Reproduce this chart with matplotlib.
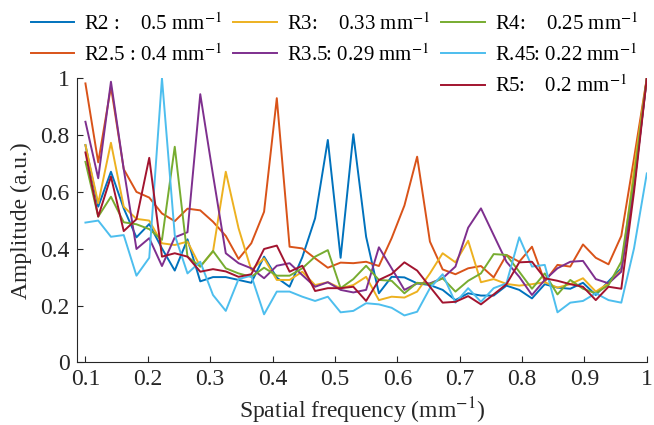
import matplotlib
matplotlib.use("Agg")
import matplotlib.pyplot as plt
from matplotlib.lines import Line2D

plt.rcParams["font.family"] = "serif"
plt.rcParams["font.serif"] = ["Liberation Serif", "DejaVu Serif"]
plt.rcParams["mathtext.fontset"] = "stix"

# ------------------------------------------------------------------ data
freq = [0.1000, 0.1205, 0.1409, 0.1614, 0.1818, 0.2023, 0.2227, 0.2432,
        0.2636, 0.2841, 0.3045, 0.3250, 0.3455, 0.3659, 0.3864, 0.4068,
        0.4273, 0.4477, 0.4682, 0.4886, 0.5091, 0.5295, 0.5500, 0.5705,
        0.5909, 0.6114, 0.6318, 0.6523, 0.6727, 0.6932, 0.7136, 0.7341,
        0.7545, 0.7750, 0.7955, 0.8159, 0.8364, 0.8568, 0.8773, 0.8977,
        0.9182, 0.9386, 0.9591, 0.9795, 1.0000]

r2 = [0.765, 0.548, 0.671, 0.542, 0.440, 0.487, 0.401, 0.323, 0.433, 0.285,
      0.300, 0.300, 0.290, 0.280, 0.372, 0.298, 0.266, 0.370, 0.507, 0.783,
      0.368, 0.803, 0.442, 0.243, 0.301, 0.299, 0.278, 0.272, 0.255, 0.219,
      0.243, 0.235, 0.235, 0.270, 0.255, 0.225, 0.275, 0.263, 0.259, 0.280,
      0.237, 0.285, 0.331, 0.620, 1.000]
r25 = [0.982, 0.704, 0.970, 0.680, 0.600, 0.580, 0.524, 0.497, 0.541, 0.535,
       0.495, 0.445, 0.364, 0.419, 0.530, 0.930, 0.407, 0.401, 0.366, 0.333,
       0.351, 0.349, 0.354, 0.339, 0.437, 0.552, 0.724, 0.425, 0.327, 0.310,
       0.331, 0.339, 0.299, 0.378, 0.354, 0.407, 0.284, 0.343, 0.337, 0.415,
       0.368, 0.345, 0.445, 0.718, 1.000]
r3 = [0.765, 0.560, 0.773, 0.548, 0.505, 0.499, 0.419, 0.413, 0.425, 0.337,
      0.390, 0.671, 0.472, 0.325, 0.366, 0.290, 0.290, 0.319, 0.272, 0.282,
      0.261, 0.272, 0.301, 0.219, 0.231, 0.228, 0.249, 0.313, 0.384, 0.352,
      0.428, 0.282, 0.293, 0.276, 0.270, 0.275, 0.282, 0.263, 0.275, 0.296,
      0.249, 0.278, 0.325, 0.680, 1.000]
r35 = [0.847, 0.648, 0.988, 0.680, 0.399, 0.437, 0.339, 0.440, 0.458, 0.944,
       0.660, 0.384, 0.349, 0.331, 0.296, 0.340, 0.349, 0.307, 0.266, 0.282,
       0.255, 0.246, 0.255, 0.405, 0.331, 0.255, 0.278, 0.278, 0.296, 0.337,
       0.474, 0.542, 0.448, 0.354, 0.301, 0.237, 0.290, 0.331, 0.354, 0.357,
       0.293, 0.278, 0.319, 0.620, 1.000]
r4 = [0.706, 0.513, 0.583, 0.493, 0.486, 0.469, 0.431, 0.759, 0.372, 0.337,
      0.392, 0.331, 0.313, 0.301, 0.333, 0.305, 0.305, 0.331, 0.372, 0.395,
      0.261, 0.293, 0.340, 0.290, 0.287, 0.243, 0.280, 0.275, 0.296, 0.249,
      0.287, 0.313, 0.381, 0.378, 0.319, 0.259, 0.313, 0.239, 0.290, 0.259,
      0.243, 0.272, 0.354, 0.650, 1.000]
r45 = [0.492, 0.499, 0.442, 0.448, 0.305, 0.368, 1.000, 0.448, 0.313, 0.354,
       0.237, 0.181, 0.293, 0.305, 0.169, 0.249, 0.249, 0.231, 0.216, 0.231,
       0.176, 0.181, 0.208, 0.204, 0.192, 0.165, 0.178, 0.261, 0.310, 0.210,
       0.261, 0.213, 0.261, 0.278, 0.440, 0.337, 0.343, 0.176, 0.210, 0.216,
       0.243, 0.219, 0.210, 0.401, 0.665]
r5 = [0.739, 0.513, 0.654, 0.462, 0.504, 0.720, 0.372, 0.384, 0.372, 0.319,
      0.328, 0.320, 0.301, 0.310, 0.399, 0.411, 0.319, 0.340, 0.251, 0.261,
      0.261, 0.266, 0.216, 0.290, 0.311, 0.352, 0.323, 0.266, 0.210, 0.213,
      0.233, 0.204, 0.239, 0.275, 0.352, 0.354, 0.296, 0.287, 0.275, 0.266,
      0.219, 0.266, 0.259, 0.600, 1.000]

MM = r" mm$^{-1}$"
labels = ["R2 :    0.5" + MM, "R2.5 : 0.4" + MM, "R3:    0.33" + MM,
          "R3.5: 0.29" + MM, "R4:    0.25" + MM, "R.45: 0.22" + MM,
          "R5:    0.2" + MM]
series = [r2, r25, r3, r35, r4, r45, r5]
colors = ["#0072BD", "#D95319", "#EDB120", "#7E2F8E", "#77AC30",
          "#4DBEEE", "#A2142F"]

xticks = [0.1, 0.2, 0.3, 0.4, 0.5, 0.6, 0.7, 0.8, 0.9, 1.0]
xticklabels = ["0.1", "0.2", "0.3", "0.4", "0.5", "0.6", "0.7", "0.8",
               "0.9", "1"]
yticks = [0, 0.2, 0.4, 0.6, 0.8, 1.0]
yticklabels = ["0", "0.2", "0.4", "0.6", "0.8", "1"]

# ------------------------------------------------------------------ figure
W, H = 654, 425
fig = plt.figure(figsize=(W / 100, H / 100), dpi=100)
ax = fig.add_axes([76.7 / W, 1 - 362.3 / H, (646.8 - 76.7) / W,
                   (362.3 - 78.3) / H])

handles = []
for y, lab, c in zip(series, labels, colors):
    h, = ax.plot(freq, y, color=c, lw=1.4, label=lab)
    handles.append(h)

ax.set_xlim(0.086, 1.0)
ax.set_ylim(0, 1)
ax.set_xticks(xticks)
ax.set_xticklabels(xticklabels)
ax.set_yticks(yticks)
ax.set_yticklabels(yticklabels)
ax.tick_params(direction="in", length=4, width=0.8, labelsize=17,
               colors="#262626", pad=5)
for side in ["top", "right"]:
    ax.spines[side].set_visible(False)
for side in ["left", "bottom"]:
    ax.spines[side].set_linewidth(0.8)
    ax.spines[side].set_color("#262626")
ax.set_xlabel("Spatial frequency (mm$^{-1}$)", fontsize=17, color="#262626",
              labelpad=4)
ax.set_ylabel("Amplitude (a.u.)", fontsize=17, color="#262626", labelpad=6)

# legend laid out row by row: blanks fill the short columns
blank = Line2D([], [], color="none")
order = [handles[0], handles[1], blank,
         handles[2], handles[3], blank,
         handles[4], handles[5], handles[6]]
order_labels = [labels[0], labels[1], "", labels[2], labels[3], "",
                labels[4], labels[5], labels[6]]
fig.legend(order, order_labels, ncol=3, loc="upper left",
           bbox_to_anchor=(30.7 / W, 1 - 13 / H), frameon=False,
           fontsize=15, borderpad=0, borderaxespad=0, handlelength=2.1,
           handletextpad=0.45, columnspacing=0.55, labelspacing=0.45)

fig.savefig("out.png", dpi=100)
plt.close(fig)
